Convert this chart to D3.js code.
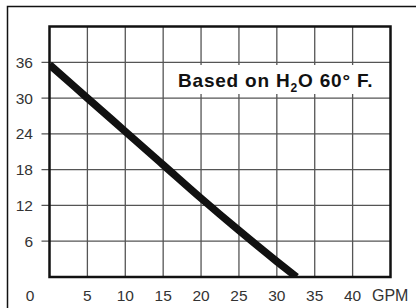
<!DOCTYPE html>
<html>
<head>
<meta charset="utf-8">
<script src="https://cdn.jsdelivr.net/npm/d3@7"></script>
<style>
  body { margin: 0; background: #fff; }
  svg { display: block; font-family: "Liberation Sans", Arial, sans-serif; }
</style>
</head>
<body>
<svg id="chart"></svg>
<script>
const width = 416, height = 308;

// data
const gpm  = [0, 5, 10, 15, 20, 25, 30, 32.6];
const head = [35.6, 30.0, 24.4, 18.8, 13.2, 7.8, 2.6, 0];
const xTicks = [5, 10, 15, 20, 25, 30, 35, 40];
const yTicks = [6, 12, 18, 24, 30, 36];
const note = 'Based on H2O 60° F.';

const m = { left: 49.5, top: 26.5, right: 390.5, bottom: 277 };

let x = d3.scaleLinear().domain([0, 45]).range([m.left, m.right]);
let y = d3.scaleLinear().domain([0, 42]).range([m.bottom, m.top]);

let svg = d3.select('#chart')
    .attr('width', width)
    .attr('height', height);

// outer frame (left + top only visible)
svg.append('path')
    .attr('d', `M7.5,${height} V6.5 H${width}`)
    .attr('fill', 'none')
    .attr('stroke', '#111')
    .attr('stroke-width', 1.5);

// vertical grid
svg.append('g').selectAll('line')
    .data(xTicks).enter().append('line')
    .attr('x1', d => x(d)).attr('x2', d => x(d))
    .attr('y1', m.top).attr('y2', m.bottom)
    .attr('stroke', '#555').attr('stroke-width', 1.3);

// horizontal grid + ticks to the left
svg.append('g').selectAll('line')
    .data(yTicks).enter().append('line')
    .attr('x1', m.left - 8).attr('x2', m.right)
    .attr('y1', d => y(d)).attr('y2', d => y(d))
    .attr('stroke', '#555').attr('stroke-width', 1.3);

// white box behind the note
svg.append('rect')
    .attr('x', 173).attr('y', 65)
    .attr('width', 212).attr('height', 29)
    .attr('fill', '#fff');

svg.append('defs').append('clipPath').attr('id', 'plot')
    .append('rect')
    .attr('x', m.left).attr('y', m.top)
    .attr('width', m.right - m.left).attr('height', m.bottom - m.top);

// performance curve
let line = d3.line()
    .x((d, i) => x(gpm[i]))
    .y(d => y(d))
    .curve(d3.curveMonotoneX);

svg.append('path')
    .datum(head)
    .attr('d', line)
    .attr('clip-path', 'url(#plot)')
    .attr('fill', 'none')
    .attr('stroke', '#111')
    .attr('stroke-width', 7.5);

// plot border
svg.append('rect')
    .attr('x', m.left).attr('y', m.top)
    .attr('width', m.right - m.left).attr('height', m.bottom - m.top)
    .attr('fill', 'none')
    .attr('stroke', '#111')
    .attr('stroke-width', 2.5);

// tick labels
svg.append('g').selectAll('text')
    .data(yTicks).enter().append('text')
    .attr('x', 33).attr('y', d => y(d) + 5.5)
    .attr('text-anchor', 'end')
    .attr('font-size', 15.5)
    .attr('fill', '#333')
    .text(d => d);

svg.append('g').selectAll('text')
    .data(xTicks).enter().append('text')
    .attr('x', d => x(d)).attr('y', 301)
    .attr('text-anchor', 'middle')
    .attr('font-size', 15.5)
    .attr('fill', '#333')
    .text(d => d);

svg.append('text')
    .attr('x', 30).attr('y', 301)
    .attr('text-anchor', 'middle')
    .attr('font-size', 15.5)
    .attr('fill', '#333')
    .text('0');

svg.append('text')
    .attr('x', 372).attr('y', 301)
    .attr('font-size', 16)
    .attr('fill', '#333')
    .text('GPM');

// note with subscript
let t = svg.append('text')
    .attr('x', 178).attr('y', 87)
    .attr('font-size', 19)
    .attr('font-weight', 'bold')
    .attr('letter-spacing', 0.8)
    .attr('fill', '#111');
let parts = note.split('2');
t.append('tspan').text(parts[0]);
t.append('tspan').attr('font-size', 12).attr('dy', 5).text('2');
t.append('tspan').attr('dy', -5).text(parts[1]);
</script>
</body>
</html>
